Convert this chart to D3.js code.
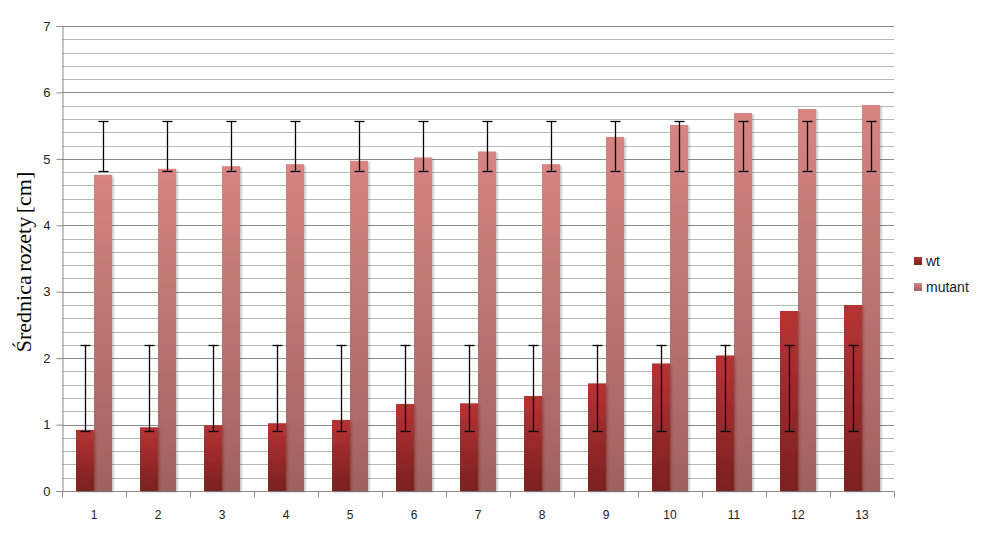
<!DOCTYPE html>
<html><head><meta charset="utf-8">
<script src="https://cdn.jsdelivr.net/npm/d3@7"></script>
<style>body{margin:0;background:#fff}svg{display:block}</style>
</head><body>
<svg id="c" width="992" height="553"></svg>
<script>
const categories = ["1","2","3","4","5","6","7","8","9","10","11","12","13"];
const wtValues = [0.92,0.96,0.99,1.02,1.07,1.31,1.32,1.43,1.62,1.92,2.04,2.71,2.80];
const mutantValues = [4.76,4.85,4.89,4.92,4.97,5.02,5.11,4.92,5.33,5.51,5.69,5.75,5.81];
const wtErrLow = 0.9, wtErrHigh = 2.2;
const mutantErrLow = 4.82, mutantErrHigh = 5.57;
const seriesNames = ["wt","mutant"];
const yTicks = [0,1,2,3,4,5,6,7];
const yLabel = "Średnica rozety [cm]";

const svg = d3.select("#c");
const pLeft = 62, pRight = 894, pTop = 26, pBottom = 491;
const x = d3.scaleBand().domain(categories).range([pLeft, pRight]);
const y = d3.scaleLinear().domain([0,7]).range([pBottom, pTop]);
const barW = 18;

const defs = svg.append("defs");
function grad(id, c1, c2){
  const g = defs.append("linearGradient").attr("id", id).attr("x1",0).attr("y1",0).attr("x2",0).attr("y2",1);
  g.append("stop").attr("offset","0%").attr("stop-color",c1);
  g.append("stop").attr("offset","100%").attr("stop-color",c2);
}
grad("gwt", "#b73333", "#7b2020");
grad("gmu", "#d78483", "#9f625f");
const f = defs.append("filter").attr("id","sh").attr("x","-20%").attr("y","-5%").attr("width","150%").attr("height","115%");
f.append("feDropShadow").attr("dx",1.5).attr("dy",1).attr("stdDeviation",1.2).attr("flood-color","#000").attr("flood-opacity",0.25);

// gridlines
const minor = d3.range(0, 7.001, 0.2);
svg.append("g").selectAll("line").data(minor).join("line")
  .attr("x1", pLeft).attr("x2", pRight)
  .attr("y1", d => Math.round(y(d))+0.5).attr("y2", d => Math.round(y(d))+0.5)
  .attr("stroke", d => Math.abs(d - Math.round(d)) < 1e-6 ? "#8a8a8a" : "#b8b8b8")
  .attr("stroke-width", 1);

// y axis
const yAxis = d3.axisLeft(y).tickValues(yTicks).tickSize(6).tickPadding(6).tickFormat(d3.format("d"));
const ya = svg.append("g").attr("transform", `translate(${pLeft+0.5},0)`).call(yAxis);
ya.select(".domain").attr("stroke","#8a8a8a");
ya.selectAll(".tick line").attr("stroke","#8a8a8a");
ya.selectAll(".tick text").attr("font-family","Liberation Sans, Arial, sans-serif").attr("font-size",13).attr("fill","#222");

// x axis
const xa = svg.append("g").attr("transform", `translate(0,${pBottom+0.5})`);
xa.append("line").attr("x1",pLeft).attr("x2",pRight).attr("stroke","#8a8a8a");
xa.selectAll("line.t").data(d3.range(categories.length+1)).join("line").attr("class","t")
  .attr("x1", i => Math.round(pLeft + i*x.bandwidth())+0.5).attr("x2", i => Math.round(pLeft + i*x.bandwidth())+0.5)
  .attr("y1",0).attr("y2",6).attr("stroke","#8a8a8a");
xa.selectAll("text").data(categories).join("text")
  .attr("x", d => x(d) + x.bandwidth()/2).attr("y", 27)
  .attr("text-anchor","middle").attr("font-family","Liberation Sans, Arial, sans-serif").attr("font-size",12).attr("fill","#222")
  .text(d => d);

// bars
const cx = d => x(d) + x.bandwidth()/2;
const gb = svg.append("g");
gb.selectAll("rect.mu").data(categories).join("rect").attr("class","mu")
  .attr("x", d => cx(d)).attr("width", barW)
  .attr("y", (d,i) => y(mutantValues[i])).attr("height", (d,i) => pBottom - y(mutantValues[i]))
  .attr("fill","url(#gmu)").attr("filter","url(#sh)");
gb.selectAll("rect.wt").data(categories).join("rect").attr("class","wt")
  .attr("x", d => cx(d) - barW).attr("width", barW)
  .attr("y", (d,i) => y(wtValues[i])).attr("height", (d,i) => pBottom - y(wtValues[i]))
  .attr("fill","url(#gwt)").attr("filter","url(#sh)");

// error bars
function errBars(off, lo, hi){
  const g = svg.append("g").attr("stroke","#000").attr("stroke-width",1.3);
  categories.forEach(d => {
    const xc = Math.round(cx(d) + off) + 0.5;
    g.append("line").attr("x1",xc).attr("x2",xc).attr("y1",y(lo)).attr("y2",y(hi));
    g.append("line").attr("x1",xc-5).attr("x2",xc+5).attr("y1",Math.round(y(lo))+0.5).attr("y2",Math.round(y(lo))+0.5);
    g.append("line").attr("x1",xc-5).attr("x2",xc+5).attr("y1",Math.round(y(hi))+0.5).attr("y2",Math.round(y(hi))+0.5);
  });
}
errBars(-barW/2, wtErrLow, wtErrHigh);
errBars(barW/2, mutantErrLow, mutantErrHigh);

// legend
const lg = svg.append("g").attr("transform","translate(914,257)");
const lcol = ["url(#gwt)","url(#gmu)"];
seriesNames.forEach((n,i) => {
  lg.append("rect").attr("x",0).attr("y", i*26).attr("width",8).attr("height",8).attr("fill", lcol[i]);
  lg.append("text").attr("x",12).attr("y", i*26+9).attr("font-family","Liberation Sans, Arial, sans-serif")
    .attr("font-size",14).attr("fill","#1a1a2e").text(n);
});

// y label
svg.append("text").attr("transform","translate(31,262) rotate(-90)").attr("text-anchor","middle")
  .attr("font-family","Liberation Serif, Times New Roman, serif").attr("font-size",22).attr("fill","#000")
  .attr("word-spacing",-2)
  .text(yLabel);
</script>
</body></html>
